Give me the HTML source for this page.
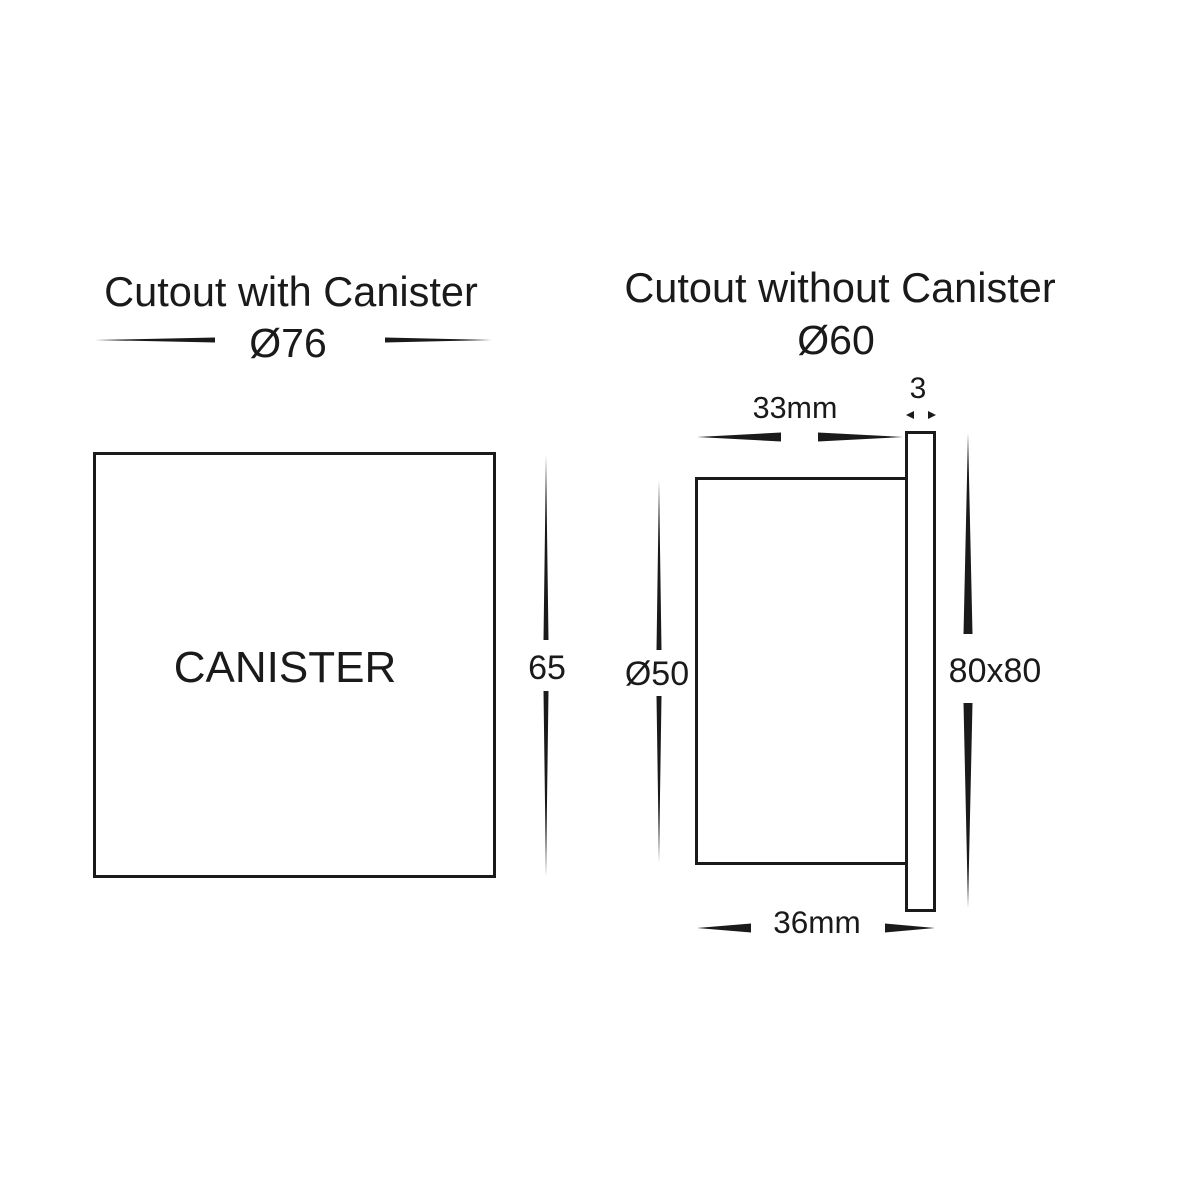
<!DOCTYPE html>
<html><head><meta charset="utf-8"><style>
html,body{margin:0;padding:0;background:#fff;}
svg{display:block;}
text{font-family:"Liberation Sans",sans-serif;fill:#1a1a1a;}
</style></head><body>
<svg width="1200" height="1200" viewBox="0 0 1200 1200" xmlns="http://www.w3.org/2000/svg">
<rect width="1200" height="1200" fill="#fff"/>
<g fill="none" stroke="#1a1a1a" stroke-width="3">
<rect x="94.5" y="453.5" width="400" height="423"/>
<rect x="696.5" y="478.5" width="210" height="385"/>
<rect x="906.5" y="432.5" width="28" height="478"/>
</g>
<g fill="#1a1a1a">
<polygon points="95,340 215,337.5 215,342.5"/>
<polygon points="492,340 385,337.5 385,342.5"/>
<polygon points="546,455 543.5,640 548.5,640"/>
<polygon points="546,877 543.5,691 548.5,691"/>
<polygon points="659,480 656.5,650 661.5,650"/>
<polygon points="659,863 656.5,696 661.5,696"/>
<polygon points="968,433 963.5,634 972.5,634"/>
<polygon points="968,908 963.5,703 972.5,703"/>
<polygon points="697,437 781,432.5 781,441.5"/>
<polygon points="903,437 818,432.5 818,441.5"/>
<polygon points="697,928 751,923.5 751,932.5"/>
<polygon points="935,928 885,923.5 885,932.5"/>
<polygon points="906,415 914,411 914,419"/>
<polygon points="936,415 928,411 928,419"/>
</g>
<text x="291" y="306" font-size="41.5" text-anchor="middle">Cutout with Canister</text>
<text x="288" y="357" font-size="41" text-anchor="middle">Ø76</text>
<text x="840" y="302" font-size="41.5" text-anchor="middle">Cutout without Canister</text>
<text x="836" y="354" font-size="41" text-anchor="middle">Ø60</text>
<text x="285" y="682" font-size="44" text-anchor="middle">CANISTER</text>
<text x="547" y="679" font-size="34" text-anchor="middle">65</text>
<text x="657" y="685" font-size="34" text-anchor="middle">Ø50</text>
<text x="995" y="682" font-size="34" text-anchor="middle">80x80</text>
<text x="795" y="418" font-size="30.5" text-anchor="middle">33mm</text>
<text x="918" y="398" font-size="30" text-anchor="middle">3</text>
<text x="817" y="933" font-size="31.5" text-anchor="middle">36mm</text>
</svg>
</body></html>
